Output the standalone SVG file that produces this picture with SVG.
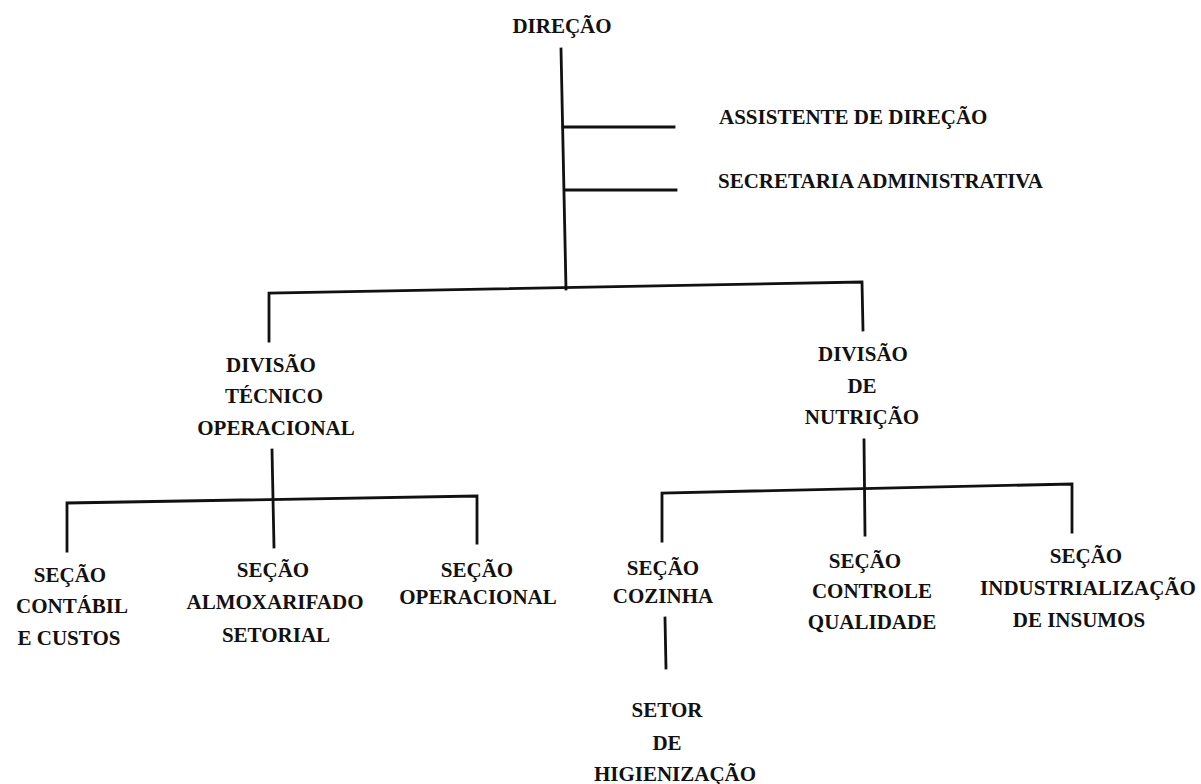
<svg xmlns="http://www.w3.org/2000/svg" width="1201" height="784" viewBox="0 0 1201 784">
<style>
text{font-family:'Liberation Serif','DejaVu Serif',serif;font-weight:700;font-size:21px;fill:#111}
.t{text-anchor:middle}
.l{text-anchor:start}
.c{fill:none;stroke:#111;stroke-width:2.8;stroke-linecap:square}
</style>
<rect width="1201" height="784" fill="#fff"/>
<g id="connectors">
<path class="c" d="M561 49 L566 289"/>
<path class="c" d="M563 127 L674 127"/>
<path class="c" d="M565 190 L676 190"/>
<path class="c" d="M269 341 L269 293 L862 282 L863 330"/>
<path class="c" d="M272 450 L274 547"/>
<path class="c" d="M67 551 L67 503 L477 496 L477 543"/>
<path class="c" d="M864 440 L865 535"/>
<path class="c" d="M662 541 L662 493 L1072 484 L1072 532"/>
<path class="c" d="M665 618 L666 668"/>
</g>
<g id="direcao"><text class="t" x="562" y="33">DIREÇÃO</text></g>
<g id="assistente"><text class="l" x="719" y="124">ASSISTENTE DE DIREÇÃO</text></g>
<g id="secretaria"><text class="l" x="718" y="188">SECRETARIA ADMINISTRATIVA</text></g>
<g id="div-tecnico"><text class="t"><tspan x="271" y="372">DIVISÃO</tspan><tspan x="274" y="403">TÉCNICO</tspan><tspan x="276" y="435">OPERACIONAL</tspan></text></g>
<g id="div-nutricao"><text class="t"><tspan x="863" y="361">DIVISÃO</tspan><tspan x="862" y="393">DE</tspan><tspan x="862" y="424">NUTRIÇÃO</tspan></text></g>
<g id="sec-contabil"><text class="t"><tspan x="70" y="582">SEÇÃO</tspan><tspan x="72" y="613">CONTÁBIL</tspan><tspan x="69" y="645">E CUSTOS</tspan></text></g>
<g id="sec-almox"><text class="t"><tspan x="273" y="577">SEÇÃO</tspan><tspan x="275" y="609">ALMOXARIFADO</tspan><tspan x="276" y="642">SETORIAL</tspan></text></g>
<g id="sec-operacional"><text class="t"><tspan x="477" y="577">SEÇÃO</tspan><tspan x="478" y="604">OPERACIONAL</tspan></text></g>
<g id="sec-cozinha"><text class="t"><tspan x="663" y="575">SEÇÃO</tspan><tspan x="663" y="603">COZINHA</tspan></text></g>
<g id="sec-controle"><text class="t"><tspan x="865" y="568">SEÇÃO</tspan><tspan x="872" y="598">CONTROLE</tspan><tspan x="872" y="629">QUALIDADE</tspan></text></g>
<g id="sec-industrial"><text class="t"><tspan x="1086" y="563">SEÇÃO</tspan><tspan x="1088" y="595">INDUSTRIALIZAÇÃO</tspan><tspan x="1079" y="627">DE INSUMOS</tspan></text></g>
<g id="setor-higienizacao"><text class="t"><tspan x="667" y="717">SETOR</tspan><tspan x="667" y="750">DE</tspan><tspan x="675" y="781">HIGIENIZAÇÃO</tspan></text></g>
</svg>
